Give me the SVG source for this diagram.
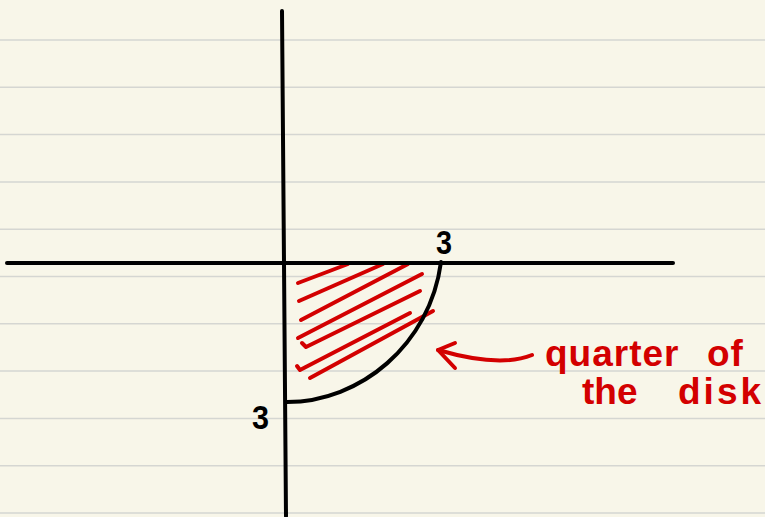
<svg xmlns="http://www.w3.org/2000/svg" width="765" height="517" viewBox="0 0 765 517">
<style>
.rule{stroke:#d5d6d2;stroke-width:1.5}
.ax{stroke:#000;stroke-width:4;fill:none;stroke-linecap:round;stroke-linejoin:round}
.red{stroke:#d30000;stroke-width:4;fill:none;stroke-linecap:round;stroke-linejoin:round}
.num{font-family:"Liberation Sans",sans-serif;font-weight:bold;font-size:34px;fill:#000}
.lab{font-family:"Liberation Sans",sans-serif;font-weight:bold;font-size:37px;fill:#d30000}
</style>
<rect width="765" height="517" fill="#f8f6e9"/>
<g id="paper">
<line class="rule" x1="0" y1="40" x2="765" y2="40"/>
<line class="rule" x1="0" y1="87.3" x2="765" y2="87.3"/>
<line class="rule" x1="0" y1="134.6" x2="765" y2="134.6"/>
<line class="rule" x1="0" y1="181.9" x2="765" y2="181.9"/>
<line class="rule" x1="0" y1="229.2" x2="765" y2="229.2"/>
<line class="rule" x1="0" y1="276.5" x2="765" y2="276.5"/>
<line class="rule" x1="0" y1="323.8" x2="765" y2="323.8"/>
<line class="rule" x1="0" y1="371.1" x2="765" y2="371.1"/>
<line class="rule" x1="0" y1="418.4" x2="765" y2="418.4"/>
<line class="rule" x1="0" y1="465.7" x2="765" y2="465.7"/>
<line class="rule" x1="0" y1="513" x2="765" y2="513"/>
</g>
<g id="hatch">
<path class="red" d="M298,283 L348,264"/>
<path class="red" d="M299,301 L383,264"/>
<path class="red" d="M301,320 L408,264"/>
<path class="red" d="M298,338 L422,274"/>
<path class="red" d="M420,291 L306,347 L302,343"/>
<path class="red" d="M410,313 L300,370 L297,366"/>
<path class="red" d="M310,378 L433,311"/>
</g>
<g id="axes">
<path class="ax" d="M282,11 L286,516"/>
<path class="ax" d="M7,263 L673,263"/>
</g>
<g id="curve">
<path class="ax" d="M441,262 C430,345 360,402 287,402"/>
</g>
<g id="labels">
<text class="num" x="436" y="254" textLength="16" lengthAdjust="spacingAndGlyphs">3</text>
<text class="num" x="252" y="429" textLength="17" lengthAdjust="spacingAndGlyphs">3</text>
</g>
<g id="connectors">
<path class="red" d="M532,355 Q500,368 438,350"/>
<path class="red" d="M455,343 L438,350 L455,368"/>
</g>
<g id="note">
<text class="lab" x="545" y="366" letter-spacing="1">quarter <tspan x="707">of</tspan></text>
<text class="lab" x="582" y="404">the <tspan x="678" letter-spacing="3">disk</tspan></text>
</g>
</svg>
